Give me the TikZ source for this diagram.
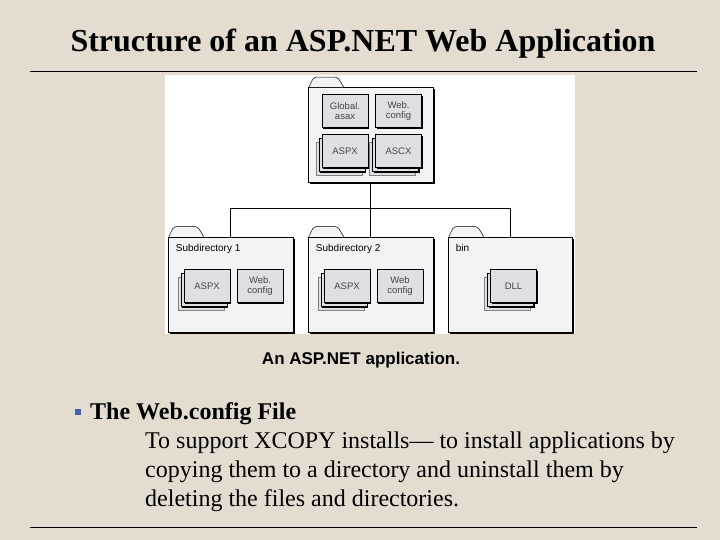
\documentclass[tikz,border=0pt]{standalone}
\usepackage{fontspec}
\setmainfont{Liberation Serif}
\setsansfont{Liberation Sans}
\usetikzlibrary{shadows}
\definecolor{slidebg}{RGB}{228,221,207}
\definecolor{folderfill}{RGB}{243,243,246}
\definecolor{boxfill}{RGB}{223,223,227}
\definecolor{boxtext}{RGB}{70,70,70}
\definecolor{bulletblue}{RGB}{70,95,175}

\tikzset{
  folder/.style={draw=black, line width=0.6pt, fill=folderfill, minimum width=125, minimum height=95, inner sep=0pt,
    drop shadow={shadow xshift=1.6pt, shadow yshift=-1.6pt, fill=black, opacity=1}},
  foldertab/.style={draw=black, line width=0.5pt, fill=folderfill, rounded corners=2pt},
  filebox/.style={draw=black, line width=0.6pt, fill=boxfill, minimum width=46, minimum height=33, inner sep=0pt,
    align=center, font=\sffamily\fontsize{9.5}{10}\selectfont, text=boxtext,
    drop shadow={shadow xshift=1.2pt, shadow yshift=-1.2pt, fill=black, opacity=1}},
  fileback/.style={draw=gray, line width=0.6pt, fill=boxfill, minimum width=46, minimum height=33, inner sep=0pt},
  link/.style={draw=black, line width=0.7pt},
  dirlabel/.style={anchor=north west, font=\sffamily\fontsize{10}{11}\selectfont, inner sep=0pt},
}

% tab on top of a folder body
\newcommand{\foldertab}[1]{\draw[foldertab] ([xshift=1pt]#1.north west) -- ++(5,-10) -- ++(24,0) -- ++(6,10);}
% a pile of three files
\newcommand{\filestack}[3]{%
  \node[fileback, xshift=-6pt, yshift=-8pt] at #2 {};
  \node[filebox, xshift=-3pt, yshift=-4pt] at #2 {};
  \node[filebox] (#1) at #2 {#3};}

\begin{document}
\begin{tikzpicture}[x=1pt,y=-1pt]
\useasboundingbox (0,0) rectangle (720,540);
\fill[slidebg] (0,0) rectangle (720,540);

\node[font=\bfseries\fontsize{32}{36}\selectfont, anchor=base] (title) at (363,52) {Structure of an ASP.NET Web Application};
\draw[line width=1pt] (30,72) -- (697,72);

% picture
\fill[white] (165,75) rectangle (575,334);

\node[folder] (root) at (370.5,135) {};
\foldertab{root}
\node[filebox] (global) at (345,111) {Global.\\asax};
\node[filebox] (webroot) at (398.5,111) {Web.\\config};
\filestack{aspxroot}{(345,151)}{ASPX}
\filestack{ascxroot}{(398.5,151)}{ASCX}

\node[folder] (sub1) at (230.5,284.5) {};
\foldertab{sub1}
\node[dirlabel] (sub1lbl) at ([xshift=8pt,yshift=-7pt]sub1.north west) {Subdirectory 1};
\filestack{aspxone}{(207,286)}{ASPX}
\node[filebox] (webone) at (260,286) {Web.\\config};

\node[folder] (sub2) at (370.5,284.5) {};
\foldertab{sub2}
\node[dirlabel] (sub2lbl) at ([xshift=8pt,yshift=-7pt]sub2.north west) {Subdirectory 2};
\filestack{aspxtwo}{(347,286)}{ASPX}
\node[filebox] (webtwo) at (400,286) {Web\\config};

\node[folder, minimum width=124] (bin) at (510,284.5) {};
\foldertab{bin}
\node[dirlabel] (binlbl) at ([xshift=8pt,yshift=-7pt]bin.north west) {bin};
\filestack{dll}{(513.5,286)}{DLL}

\draw[link] (root.south) -- ++(0,26) coordinate (bus);
\draw[link] (sub1.north) |- (bus) -| (bin.north);
\draw[link] (bus) -- (sub2.north);

\node[font=\sffamily\bfseries\fontsize{17}{20}\selectfont, anchor=base] (caption) at (361,364) {An ASP.NET application.};

% text
\node[fill=bulletblue, minimum size=6, inner sep=0pt] (bullet) at (78,412) {};
\node[anchor=base west, inner sep=0pt, font=\bfseries\fontsize{24}{29}\selectfont] (heading) at (90,419) {The Web.config File};
\node[anchor=base west, inner sep=0pt, font=\fontsize{24}{29}\selectfont] (line1) at (145,448) {To support XCOPY installs— to install applications by};
\node[anchor=base west, inner sep=0pt, font=\fontsize{24}{29}\selectfont] (line2) at (145,477) {copying them to a directory and uninstall them by};
\node[anchor=base west, inner sep=0pt, font=\fontsize{24}{29}\selectfont] (line3) at (145,506) {deleting the files and directories.};
\draw[line width=1pt] (30,527) -- (697,527);
\end{tikzpicture}
\end{document}
